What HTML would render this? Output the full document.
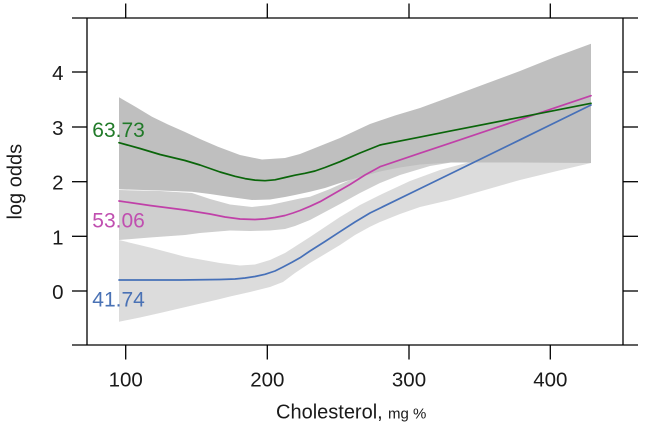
<!DOCTYPE html>
<html><head><meta charset="utf-8"><style>
html,body{margin:0;padding:0;background:#fff;}
svg{display:block;}
text{font-family:"Liberation Sans",Arial,sans-serif;}
</style></head><body>
<svg width="645" height="427" viewBox="0 0 645 427" xmlns="http://www.w3.org/2000/svg">
<rect width="645" height="427" fill="#fff"/>
<!-- bands -->
<polygon fill="#dcdcdc" points="119,240 152,248 185,256.7 220,263 240,265.5 255,264.5 270,260 285,253 310,237 340,217 360,205 380,195 410,181 440,170 470,162 591,150 591,163 555,171.5 520,180 485,190 450,200 420,207 400,214 380,222 370,226.7 355,235 340,245 325,254 310,263 295,273 283,282 270,287 250,292 230,296.5 218,299.5 190,306 160,313 140,317.5 119,321.7"/>
<polygon fill="#cfcfcf" points="119,190 160,191 192,193 210,199 230,204.5 252,207 270,205 285,201.7 300,198.5 310,196.7 330,189 350,180 380,168 420,160 591,150 591,155 520,158 460,161 430,166 400,175 380,183 360,193 340,204 325,212 310,220 295,226 285,229 270,230.5 250,231 230,230.5 200,233 185,235 150,237.5 119,240"/>
<polygon fill="#bfbfbf" points="119,97.3 135,106.5 152,116.7 168,124.5 185,132 200,139 218,146.7 240,155 262,159.5 285,158 300,154 310,150 325,144 340,138 355,131 370,124 395,115.5 420,108 450,97 485,84 520,71 555,57 591,43.7 591,163 520,162.5 450,162.5 420,164.5 400,167.5 380,171.5 360,177 340,183 325,188 310,191.7 295,195 285,197 270,199.5 252,200 230,197 210,194 192,191.7 160,190.5 119,189.3"/>
<!-- lines -->
<g fill="none" stroke-width="1.7" stroke-linejoin="round" stroke-linecap="round">
<polyline stroke="#4670b8" points="119,280 180,280 220,279.5 235,279 245,278 255,276.5 265,274.3 275,271 283,267 292,262.3 300,257.8 310,251 325,241.5 340,231.7 355,222 370,213 420,188.6 450,174 520,139.8 591,105"/>
<polyline stroke="#c040a8" points="119,201 150,205.5 185,210 210,214 225,217 240,219 255,219.5 265,218.9 275,217.5 285,215.5 293,213 300,210.5 310,206.3 320,201.7 330,196 340,190.3 350,184.5 365,175 380,166.7 420,153.2 450,143.2 520,119.6 591,95.7"/>
<polyline stroke="#0a650a" points="119,142.7 140,148.5 160,154.5 185,160.5 200,165 220,172 235,176.3 245,178.6 255,180.1 265,180.7 275,179.8 285,177.5 295,175.2 305,173.3 315,171 325,167.5 340,161.7 360,153 380,145 420,137.1 450,131.1 520,117.3 591,103.3"/>
</g>
<!-- frame -->
<g stroke="#000" stroke-width="1.3" fill="none">
<line x1="72" y1="18" x2="638" y2="18"/>
<line x1="72" y1="345" x2="638" y2="345"/>
<line x1="87" y1="18" x2="87" y2="345"/>
<line x1="623" y1="18" x2="623" y2="345"/>
<line x1="72" y1="72" x2="87" y2="72"/>
<line x1="72" y1="127" x2="87" y2="127"/>
<line x1="72" y1="181.7" x2="87" y2="181.7"/>
<line x1="72" y1="236.3" x2="87" y2="236.3"/>
<line x1="72" y1="291" x2="87" y2="291"/>
<line x1="623" y1="72" x2="638" y2="72"/>
<line x1="623" y1="127" x2="638" y2="127"/>
<line x1="623" y1="181.7" x2="638" y2="181.7"/>
<line x1="623" y1="236.3" x2="638" y2="236.3"/>
<line x1="623" y1="291" x2="638" y2="291"/>
<line x1="125.7" y1="3.5" x2="125.7" y2="18"/>
<line x1="267.3" y1="3.5" x2="267.3" y2="18"/>
<line x1="409" y1="3.5" x2="409" y2="18"/>
<line x1="550.3" y1="3.5" x2="550.3" y2="18"/>
<line x1="125.7" y1="345" x2="125.7" y2="359.5"/>
<line x1="267.3" y1="345" x2="267.3" y2="359.5"/>
<line x1="409" y1="345" x2="409" y2="359.5"/>
<line x1="550.3" y1="345" x2="550.3" y2="359.5"/>
</g>
<!-- tick labels -->
<g font-size="20.5" fill="#1a1a1a">
<text x="63.5" y="80" text-anchor="end">4</text>
<text x="63.5" y="135" text-anchor="end">3</text>
<text x="63.5" y="189.7" text-anchor="end">2</text>
<text x="63.5" y="244.3" text-anchor="end">1</text>
<text x="63.5" y="299" text-anchor="end">0</text>
<text x="125.7" y="386.7" text-anchor="middle">100</text>
<text x="267.3" y="386.7" text-anchor="middle">200</text>
<text x="409" y="386.7" text-anchor="middle">300</text>
<text x="550.3" y="386.7" text-anchor="middle">400</text>
</g>
<!-- axis labels -->
<text x="276" y="418.3" font-size="20" fill="#1a1a1a">Cholesterol,</text>
<text x="388" y="418.3" font-size="15" fill="#1a1a1a">mg %</text>
<text transform="translate(21.5,181.7) rotate(-90)" text-anchor="middle" font-size="20" fill="#1a1a1a">log odds</text>
<!-- series labels -->
<g font-size="21">
<text x="92.3" y="137" fill="#217a29">63.73</text>
<text x="92.3" y="227.3" fill="#c04fb0">53.06</text>
<text x="92.3" y="306.7" fill="#4a72b5">41.74</text>
</g>
</svg>
</body></html>
